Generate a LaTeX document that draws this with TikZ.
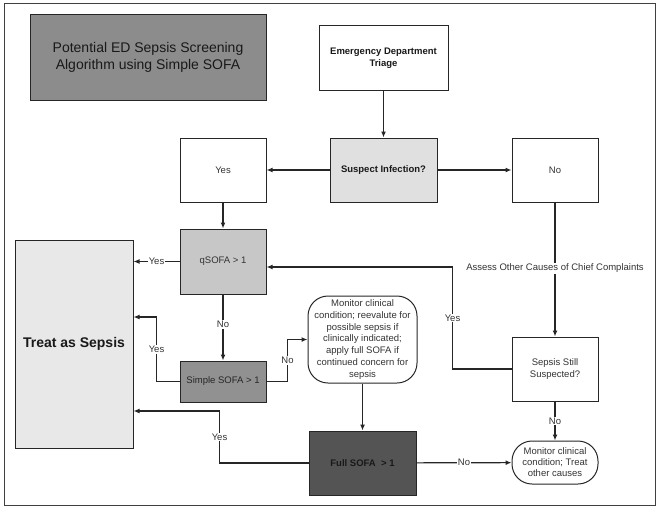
\documentclass[tikz,border=0pt]{standalone}
\usepackage{fontspec}
\setmainfont{Liberation Sans}
\usetikzlibrary{arrows.meta,positioning}
\begin{document}
\begin{tikzpicture}[x=1pt,y=-1pt,
  box/.style={draw=black!85,line width=1pt,inner sep=1pt,align=center,text=black!80,
    font=\fontsize{9.5}{11.5}\selectfont},
  bbox/.style={box,font=\fontsize{9.5}{12}\selectfont\bfseries,text=black!90},
  roundbox/.style={box,rounded corners=20pt,font=\fontsize{9.5}{11.7}\selectfont},
  conn/.style={draw=black!85,line width=1.2pt,-{Latex[length=6pt,width=5pt]}},
  lab/.style={fill=white,inner sep=1pt,font=\fontsize{9.5}{11}\selectfont,text=black!80}
]
\useasboundingbox (0,0) rectangle (660,511);
\draw[black!75,line width=1pt] (4,4) rectangle (655,505);

\node[box,fill=black!45,minimum width=236pt,minimum height=85pt,
  font=\fontsize{14}{17}\selectfont,text=black!90] (title) at (148,57.5)
  {Potential ED Sepsis Screening\\Algorithm using Simple SOFA};

\node[bbox,minimum width=129pt,minimum height=64pt] (triage) at (383.5,58)
  {Emergency Department\\Triage};
\node[bbox,fill=black!12,minimum width=107pt,minimum height=64pt] (suspect) at (383.5,170)
  {Suspect Infection?};
\node[box,minimum width=86pt,minimum height=64pt] (yesbox) at (223,170) {Yes};
\node[box,minimum width=86pt,minimum height=64pt] (nobox) at (555,170) {No};
\node[box,fill=black!22,minimum width=86pt,minimum height=65pt] (qsofa) at (223,261.5)
  {qSOFA \textgreater{} 1};
\node[bbox,fill=black!9,minimum width=118pt,minimum height=208pt,
  font=\fontsize{14}{17}\selectfont\bfseries] (treat) at (74,344) {Treat as Sepsis};
\node[box,fill=black!43,minimum width=86pt,minimum height=41pt,text=black!85] (simple) at (223,381.5)
  {Simple SOFA \textgreater{} 1};
\node[roundbox,minimum width=109pt,minimum height=87pt] (mon1) at (362.5,339.5)
  {Monitor clinical\\condition; reevalute for\\possible sepsis if\\clinically indicated;\\apply full SOFA if\\continued concern for\\sepsis};
\node[bbox,fill=black!67,minimum width=107pt,minimum height=64pt] (full) at (362.5,463)
  {Full SOFA \ \textgreater{} 1};
\node[box,minimum width=86pt,minimum height=64pt] (sepsis) at (555,369)
  {Sepsis Still\\Suspected?};
\node[roundbox,minimum width=86pt,minimum height=43pt,font=\fontsize{9.5}{11}\selectfont] (mon2) at (555,462.5)
  {Monitor clinical\\condition; Treat\\other causes};

\draw[conn] (triage) -- (suspect);
\draw[conn] (suspect) -- (yesbox);
\draw[conn] (suspect) -- (nobox);
\draw[conn] (yesbox) -- (qsofa);
\draw[conn] (qsofa.west) -- node[lab]{Yes} (qsofa.west -| treat.east);
\draw[conn] (qsofa) -- node[lab,pos=0.45]{No} (simple);
\draw[conn] (simple.west) -- ++(-23,0) |- node[lab,pos=0.25]{Yes} (treat.east |- 0,317);
\draw[conn] (simple.east) -- ++(21,0) |- node[lab,pos=0.25]{No} (mon1.west);
\draw[conn] (mon1) -- (full);
\draw[conn] (full.west) -- ++(-89,0) |- node[lab,pos=0.25]{Yes} (treat.east |- 0,411);
\draw[conn] (full) -- node[lab]{No} (mon2);
\draw[conn] (nobox) -- node[lab,pos=0.49]{Assess Other Causes of Chief Complaints} (sepsis);
\draw[conn] (sepsis.west) -- ++(-59,0) |- node[lab,pos=0.25]{Yes} (qsofa.east |- 0,267);
\draw[conn] (sepsis) -- node[lab]{No} (mon2);
\end{tikzpicture}
\end{document}
